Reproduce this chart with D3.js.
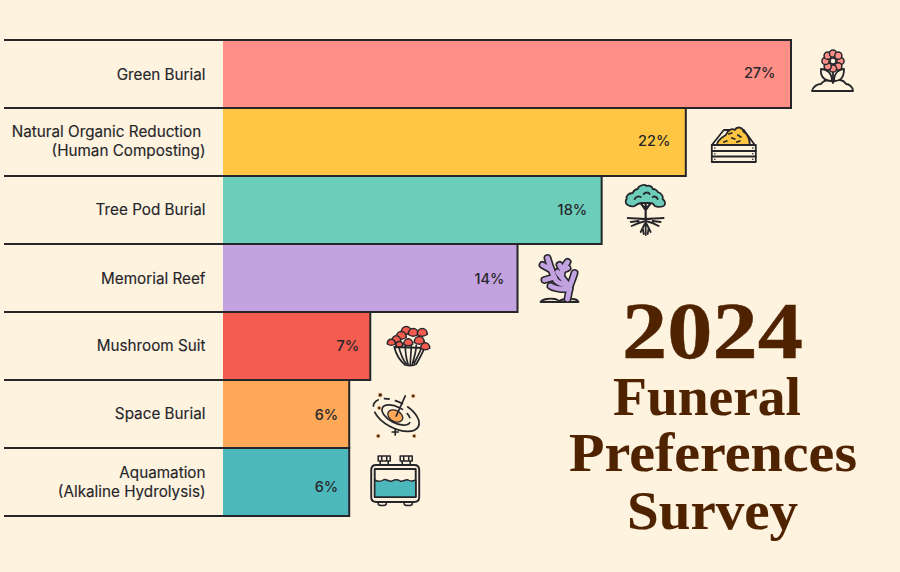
<!DOCTYPE html>
<html><head><meta charset="utf-8">
<script src="https://cdnjs.cloudflare.com/ajax/libs/d3/7.8.5/d3.min.js"></script>
<style>
html,body{margin:0;padding:0;background:#FEF3DF;}
svg{display:block;}
.lab{font-family:Inter,sans-serif;font-size:15.25px;font-weight:400;fill:#26262a;white-space:pre;stroke:#26262a;stroke-width:0.15;}
.val{font-family:Inter,sans-serif;font-size:14.5px;font-weight:500;fill:#26262a;}
.ttl{font-family:"Liberation Serif",serif;font-weight:700;fill:#4F2300;stroke:#4F2300;text-anchor:middle;}
</style></head><body>
<svg id="c" width="900" height="572"></svg>
<script>
const categories=["Green Burial","Natural Organic Reduction ","Tree Pod Burial","Memorial Reef","Mushroom Suit","Space Burial","Aquamation"];
const subLabels=["","(Human Composting)","","","","","(Alkaline Hydrolysis)"];
const values=[27,22,18,14,7,6,6];
const colors=["#FF8F87","#FEC642","#6CCDBA","#C3A2E0","#F55C50","#FFA858","#4DB8BC"];
const titleLines=["2024","Funeral","Preferences","Survey"];
const ink="#26262a";
const svg=d3.select("#c");
const x=d3.scaleLinear().domain([0,27]).range([223,791]);
const y=d3.scaleBand().domain(categories).range([40,516]).padding(0);
const rows=svg.selectAll("g.row").data(categories).join("g").attr("class","row");
rows.append("rect").attr("x",x(0)).attr("y",d=>y(d)).attr("width",(d,i)=>x(values[i])-x(0)).attr("height",y.bandwidth()).attr("fill",(d,i)=>colors[i]);
rows.append("path").attr("fill","none").attr("stroke",ink).attr("stroke-width",2)
 .attr("d",(d,i)=>{const e=x(values[i]),t=y(d),b=t+y.bandwidth();return `M4,${t}H${e}V${b}H4`;});
const lblDy=[1,0,0,1,0,0,0];
rows.each(function(d,i){
 const g=d3.select(this),c=y(d)+y.bandwidth()/2;
 if(subLabels[i]){
  const up=i===1?5.5:4.5, dn=i===1?14:15;
  g.append("text").attr("class","lab").attr("text-anchor","end").attr("x",205.5).attr("y",c-up).text(d);
  g.append("text").attr("class","lab").attr("text-anchor","end").attr("x",205.5).attr("y",c+dn).text(subLabels[i]);
 } else {
  g.append("text").attr("class","lab").attr("text-anchor","end").attr("x",205.5).attr("y",c+5+lblDy[i]).text(d);
 }
});
const valDy=[-1,-1,0,1,0,1,5];
const valPad=[15.5,15.5,14.5,13,11,11,11];
rows.append("text").attr("class","val").attr("text-anchor","end")
 .attr("x",(d,i)=>x(values[i])-valPad[i]).attr("y",(d,i)=>y(d)+y.bandwidth()/2+5+valDy[i]).text((d,i)=>values[i]+"%");

// icons, drawn in local units around their centre and anchored on each bar's end
const S={fill:"none",stroke:ink,"stroke-width":1.8,"stroke-linejoin":"round","stroke-linecap":"round"};
function P(g,d,fill,sw){const p=g.append("path").attr("d",d);Object.entries(S).forEach(([k,v])=>p.attr(k,v));if(fill)p.attr("fill",fill);if(sw)p.attr("stroke-width",sw);return p;}
const bgc="#FEF3DF";
const curve=d3.line().curve(d3.curveCatmullRom);
const icons=[
 function(g,c){ // flower
  P(g,"M-21,19 C-20,14 -15,12 -12,12 C-9,7 -3,8 0,10 C4,7 10,7 13,12 C16,12 20,15 20,19 Z",bgc);
  P(g,"M0,-8 V11");
  P(g,"M-1,9 C-8,9 -13,5 -12,-3 C-6,-3 -1,1 -1,9 Z",bgc);
  P(g,"M1,9 C8,9 11,5 11,-3 C6,-3 1,1 1,9 Z",bgc);
  d3.range(8).forEach(k=>{const a=k*Math.PI/4;g.append("circle").attr("cx",7.5*Math.cos(a)).attr("cy",-11+7.5*Math.sin(a)).attr("r",3.6).attr("fill",c).attr("stroke",ink).attr("stroke-width",1.5);});
  g.append("circle").attr("cx",0).attr("cy",-11).attr("r",3).attr("fill",bgc).attr("stroke",ink).attr("stroke-width",1.5);
 },
 function(g,c){ // crate
  P(g,"M-22,0 L-10,-15 L10,-15 L21,0 Z",bgc);
  P(g,"M-17,0 C-16,-6 -11,-8 -8,-10 C-6,-15 -2,-17 1,-15 C3,-19 9,-18 10,-13 C14,-11 16,-5 16,0 Z",c);
  P(g,"M-10,-3 l3,-1 M-2,-7 l3,1 M4,-10 l3,2 M3,-3 l3,-1 M-5,-11 l3,-1");
  P(g,"M-22,0 H22 V17 H-22 Z",bgc);
  P(g,"M-22,6 H22 M-22,11.5 H22");
  [-19,19].forEach(px=>[3,8.7,14.3].forEach(py=>g.append("circle").attr("cx",px).attr("cy",py).attr("r",0.8).attr("fill",ink)));
 },
 function(g,c){ // tree
  P(g,"M0,-1 V8 M0,0 L-5,-7 M0,0 L5,-7 M0,-1 V-7",null,2.2);
  P(g,"M-18,-5 C-21,-7 -20,-10 -19,-11 C-20,-14 -17,-17 -13,-17 C-12,-20 -9,-21 -8,-21 C-7,-25 -1,-26 1,-24 C4,-25 7,-23 7,-21 C10,-21 12,-19 12,-18 C16,-17 18,-13 17,-11 C20,-9 20,-5 18,-4 C15,-3 11,-3 9,-4 C8,-7 6,-7 4,-7 H-4 C-6,-7 -8,-6 -11,-4 C-13,-3 -16,-4 -18,-5 Z",c);
  P(g,"M-11,-11 C-9,-14 -7,-14 -5,-13 M-2,-16 C0,-18 3,-18 4,-16 M7,-13 C9,-14 11,-13 12,-11");
  P(g,"M0,8 V25 M0,9 C-6,9 -12,8 -18,8 M0,9 C6,9 12,8 18,8 M0,11 C-5,12 -8,13 -14,16 M0,11 C5,12 8,13 13,16 M-1,14 L-5,22 M1,14 L5,22 M-7,11 L-15,12 M7,11 L15,12 M-3,18 L-2,24 M3,18 L2,24",null,1.8);
 },
 function(g,c){ // coral
  P(g,"M-19,22 C-17,19 -10,18 -4,19 L2,22 Z","#EBDDBE");
  P(g,"M-1,22 C1,19 10,18 13,19 C16,19 18,20 19,22 Z","#EBDDBE");
  const br=[
   [[8,19],[9,14],[10,7],[6,2],[2,-3],[-2,-8]],
   [[10,7],[13,-1],[15,-7]],
   [[2,-3],[3,-10],[8,-18]],
   [[3,-10],[0,-15]],
   [[3,-10],[8,-12]],
   [[10,9],[2,9],[-4,8],[-9,6]],
   [[6,5],[-3,1],[-8,-10],[-12,-22]],
   [[-8,-10],[-17,-15]],
   [[-5,-3],[-15,0]]
  ];
  br.forEach(b=>g.append("path").attr("d",curve(b)).attr("fill","none").attr("stroke",ink).attr("stroke-width",8).attr("stroke-linecap","round").attr("stroke-linejoin","round"));
  br.forEach(b=>g.append("path").attr("d",curve(b)).attr("fill","none").attr("stroke",c).attr("stroke-width",4.8).attr("stroke-linecap","round").attr("stroke-linejoin","round"));
 },
 function(g,c){ // mushrooms
  P(g,"M-14,2 C-12,10 -8,16 -3,20 C1,21 5,21 8,19 C11,14 14,9 16,3 Z",bgc);
  P(g,"M-10,0 C-8,8 -6,14 -2,19 M-3,0 C-3,8 -2,14 0,20 M3,0 C3,8 2,14 2,20 M8,0 C8,8 5,14 4,20 M13,3 C11,9 8,14 6,18",null,1.7);
  [[-2,-15,5],[5,-13,5],[14,-13,5],[-7,-10,5],[-12,-6,4.5],[-17,-3,4],[11,-5,5],[17,1,4.5],[-9,-1,3.5],[0,-3,4.5]].forEach(m=>{
   const [a,b,r]=m;P(g,`M${a-r},${b+r*0.5} C${a-r},${b-r*1.1} ${a+r},${b-r*1.1} ${a+r},${b+r*0.5} C${a+r*0.4},${b+r*0.9} ${a-r*0.4},${b+r*0.9} ${a-r},${b+r*0.5} Z`,c,1.5);
  });
 },
 function(g,c){ // galaxy
  const e=g.append("g").attr("transform","rotate(28)");
  e.append("ellipse").attr("rx",25).attr("ry",13).attr("fill","none").attr("stroke",ink).attr("stroke-width",1.7).attr("stroke-dasharray","52 5 10 5 6 5 9 5");
  e.append("ellipse").attr("rx",15.5).attr("ry",8).attr("fill","none").attr("stroke",ink).attr("stroke-width",1.7).attr("stroke-dasharray","60 5 6 4");
  g.append("ellipse").attr("cx",-1).attr("cy",1).attr("rx",8).attr("ry",5.5).attr("transform","rotate(28 -1 1)").attr("fill",c).attr("stroke",ink).attr("stroke-width",1.4);
  P(g,"M0,1 L9,-19");
  P(g,"M-1,14 V20 M-4,17 H2",null,1.7);
  [[-16,-20,2],[17,-19,1.8],[-17,-7,1.7],[-18,21,1.8],[18,21,1.7]].forEach(d=>g.append("circle").attr("cx",d[0]).attr("cy",d[1]).attr("r",d[2]).attr("fill",ink).attr("stroke",c).attr("stroke-width",0.8));
 },
 function(g,c){ // tank
  [-11,11].forEach(a=>{P(g,`M${a-6},-25 H${a+6} V-20 H${a-6} Z M${a-4},-20 V-16 H${a+4} V-20 M${a-2.5},-25 V-20 M${a+2.5},-25 V-20`,bgc,1.6);});
  [-13,13].forEach(a=>P(g,`M${a-4},20 V23 C${a-4},25 ${a+4},25 ${a+4},23 V20`,bgc,1.6));
  P(g,"M-19,-16 H19 C22,-16 24,-14 24,-11 V16 C24,19 22,21 19,21 H-19 C-22,21 -24,19 -24,16 V-11 C-24,-14 -22,-16 -19,-16 Z",bgc,1.9);
  P(g,"M-20.5,-12 H20.5 V16 H-20.5 Z",bgc,1.9);
  P(g,"M-20.5,-1 C-17,1 -15,1 -12,-1 C-9,-3 -7,1 -3,0 C0,-2 2,-2 5,0 C8,1 10,-2 13,-1 C16,1 18,0 20.5,-1 V16 H-20.5 Z",c,1.5);
 }
];
const iconDx=[42,48,44,42,38,47,46];
const iconDy=[-2,3,0,2,-1,1,-1];
rows.each(function(d,i){
 const g=d3.select(this).append("g").attr("transform",`translate(${x(values[i])+iconDx[i]},${y(d)+y.bandwidth()/2+iconDy[i]})`);
 icons[i](g,colors[i]);
});

// title
const tSize=[81,55,55,55],tBase=[358,415,471,529],tCx=[712.5,707,713,712.5],tLen=[181,188,288,171],tSw=[0.4,0.1,0.1,0.1];
svg.selectAll("text.ttl").data(titleLines).join("text").attr("class","ttl")
 .attr("x",(d,i)=>tCx[i]).attr("y",(d,i)=>tBase[i]).attr("font-size",(d,i)=>tSize[i])
 .attr("stroke-width",(d,i)=>tSw[i]).attr("textLength",(d,i)=>tLen[i]).attr("lengthAdjust","spacingAndGlyphs").text(d=>d);
</script>
</body></html>
